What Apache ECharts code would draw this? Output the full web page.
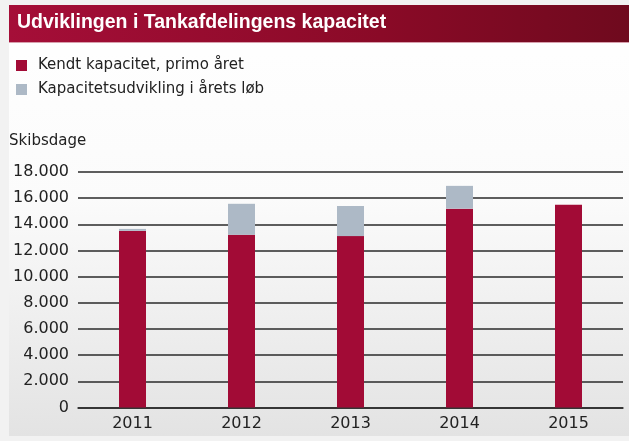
<!DOCTYPE html>
<html>
<head>
<meta charset="utf-8">
<script src="https://cdn.jsdelivr.net/npm/echarts@6/dist/echarts.min.js"></script>
<style>
  html, body { margin: 0; padding: 0; background: #f2f2f2; }
  #chart { width: 629px; height: 441px; }
</style>
</head>
<body>
<div id="chart"></div>
<script>
// data
const years = ['2011', '2012', '2013', '2014', '2015']
const kendt = [13500, 13200, 13100, 15200, 15500]
const udvikling = [150, 2370, 2300, 1740, 0]
const seriesNames = ['Kendt kapacitet, primo året', 'Kapacitetsudvikling i årets løb']

const red = '#a20b36'
const grey = '#adb9c6'
const textColor = '#222'

const chart = echarts.init(document.getElementById('chart'), null, { renderer: 'canvas' })

function fmt (v) {
  return String(v).replace(/\B(?=(\d{3})+(?!\d))/g, '.')
}

chart.setOption({
  backgroundColor: 'transparent',
  animation: false,
  graphic: [
    {
      type: 'rect',
      z: -10,
      shape: { x: 9, y: 5, width: 620, height: 431 },
      style: {
        fill: {
          type: 'linear', x: 0, y: 0, x2: 0, y2: 1,
          colorStops: [
            { offset: 0, color: '#ffffff' },
            { offset: 0.45, color: '#fbfbfb' },
            { offset: 1, color: '#e3e3e3' }
          ]
        }
      }
    },
    {
      type: 'rect',
      z: -5,
      shape: { x: 9, y: 5, width: 620, height: 37 },
      style: {
        fill: {
          type: 'linear', x: 0, y: 0, x2: 1, y2: 0,
          colorStops: [
            { offset: 0, color: '#a50e38' },
            { offset: 0.6, color: '#8a0a27' },
            { offset: 1, color: '#6f0a1e' }
          ]
        }
      }
    },
    {
      type: 'rect',
      z: -5,
      shape: { x: 9, y: 42, width: 620, height: 1 },
      style: { fill: '#d7a0ad' }
    },
    {
      type: 'text',
      left: 17,
      top: 13,
      style: {
        text: 'Udviklingen i Tankafdelingens kapacitet',
        fill: '#ffffff',
        font: 'bold 19.5px "Liberation Sans", Arial, sans-serif'
      }
    },
    {
      type: 'text',
      left: 9,
      top: 134,
      style: {
        text: 'Skibsdage',
        fill: textColor,
        font: '15px "DejaVu Sans", sans-serif'
      }
    }
  ],
  legend: {
    orient: 'vertical',
    left: 11,
    top: 53,
    icon: 'rect',
    itemWidth: 11,
    itemHeight: 11,
    itemGap: 9,
    selectedMode: false,
    data: seriesNames,
    textStyle: {
      color: textColor,
      fontFamily: 'DejaVu Sans',
      fontSize: 15,
      lineHeight: 15,
      padding: [0, 0, 0, 6]
    }
  },
  grid: { left: 78, right: 6, top: 172, bottom: 33.5, containLabel: false },
  xAxis: {
    type: 'category',
    data: years,
    axisLine: { lineStyle: { color: '#2a2a2a', width: 1.5 } },
    axisTick: { show: false },
    axisLabel: { color: textColor, fontFamily: 'DejaVu Sans', fontSize: 16, margin: 8 }
  },
  yAxis: {
    type: 'value',
    min: 0,
    max: 18000,
    interval: 2000,
    axisLine: { show: false },
    axisTick: { show: false },
    axisLabel: {
      color: textColor,
      fontFamily: 'DejaVu Sans',
      fontSize: 16,
      margin: 9,
      formatter: fmt
    },
    splitLine: { lineStyle: { color: '#2a2a2a', width: 1.5 } }
  },
  series: [
    {
      name: seriesNames[0],
      type: 'bar',
      stack: 'cap',
      barWidth: 27,
      itemStyle: { color: red },
      data: kendt
    },
    {
      name: seriesNames[1],
      type: 'bar',
      stack: 'cap',
      barWidth: 27,
      itemStyle: { color: grey },
      data: udvikling
    }
  ]
})
</script>
</body>
</html>
